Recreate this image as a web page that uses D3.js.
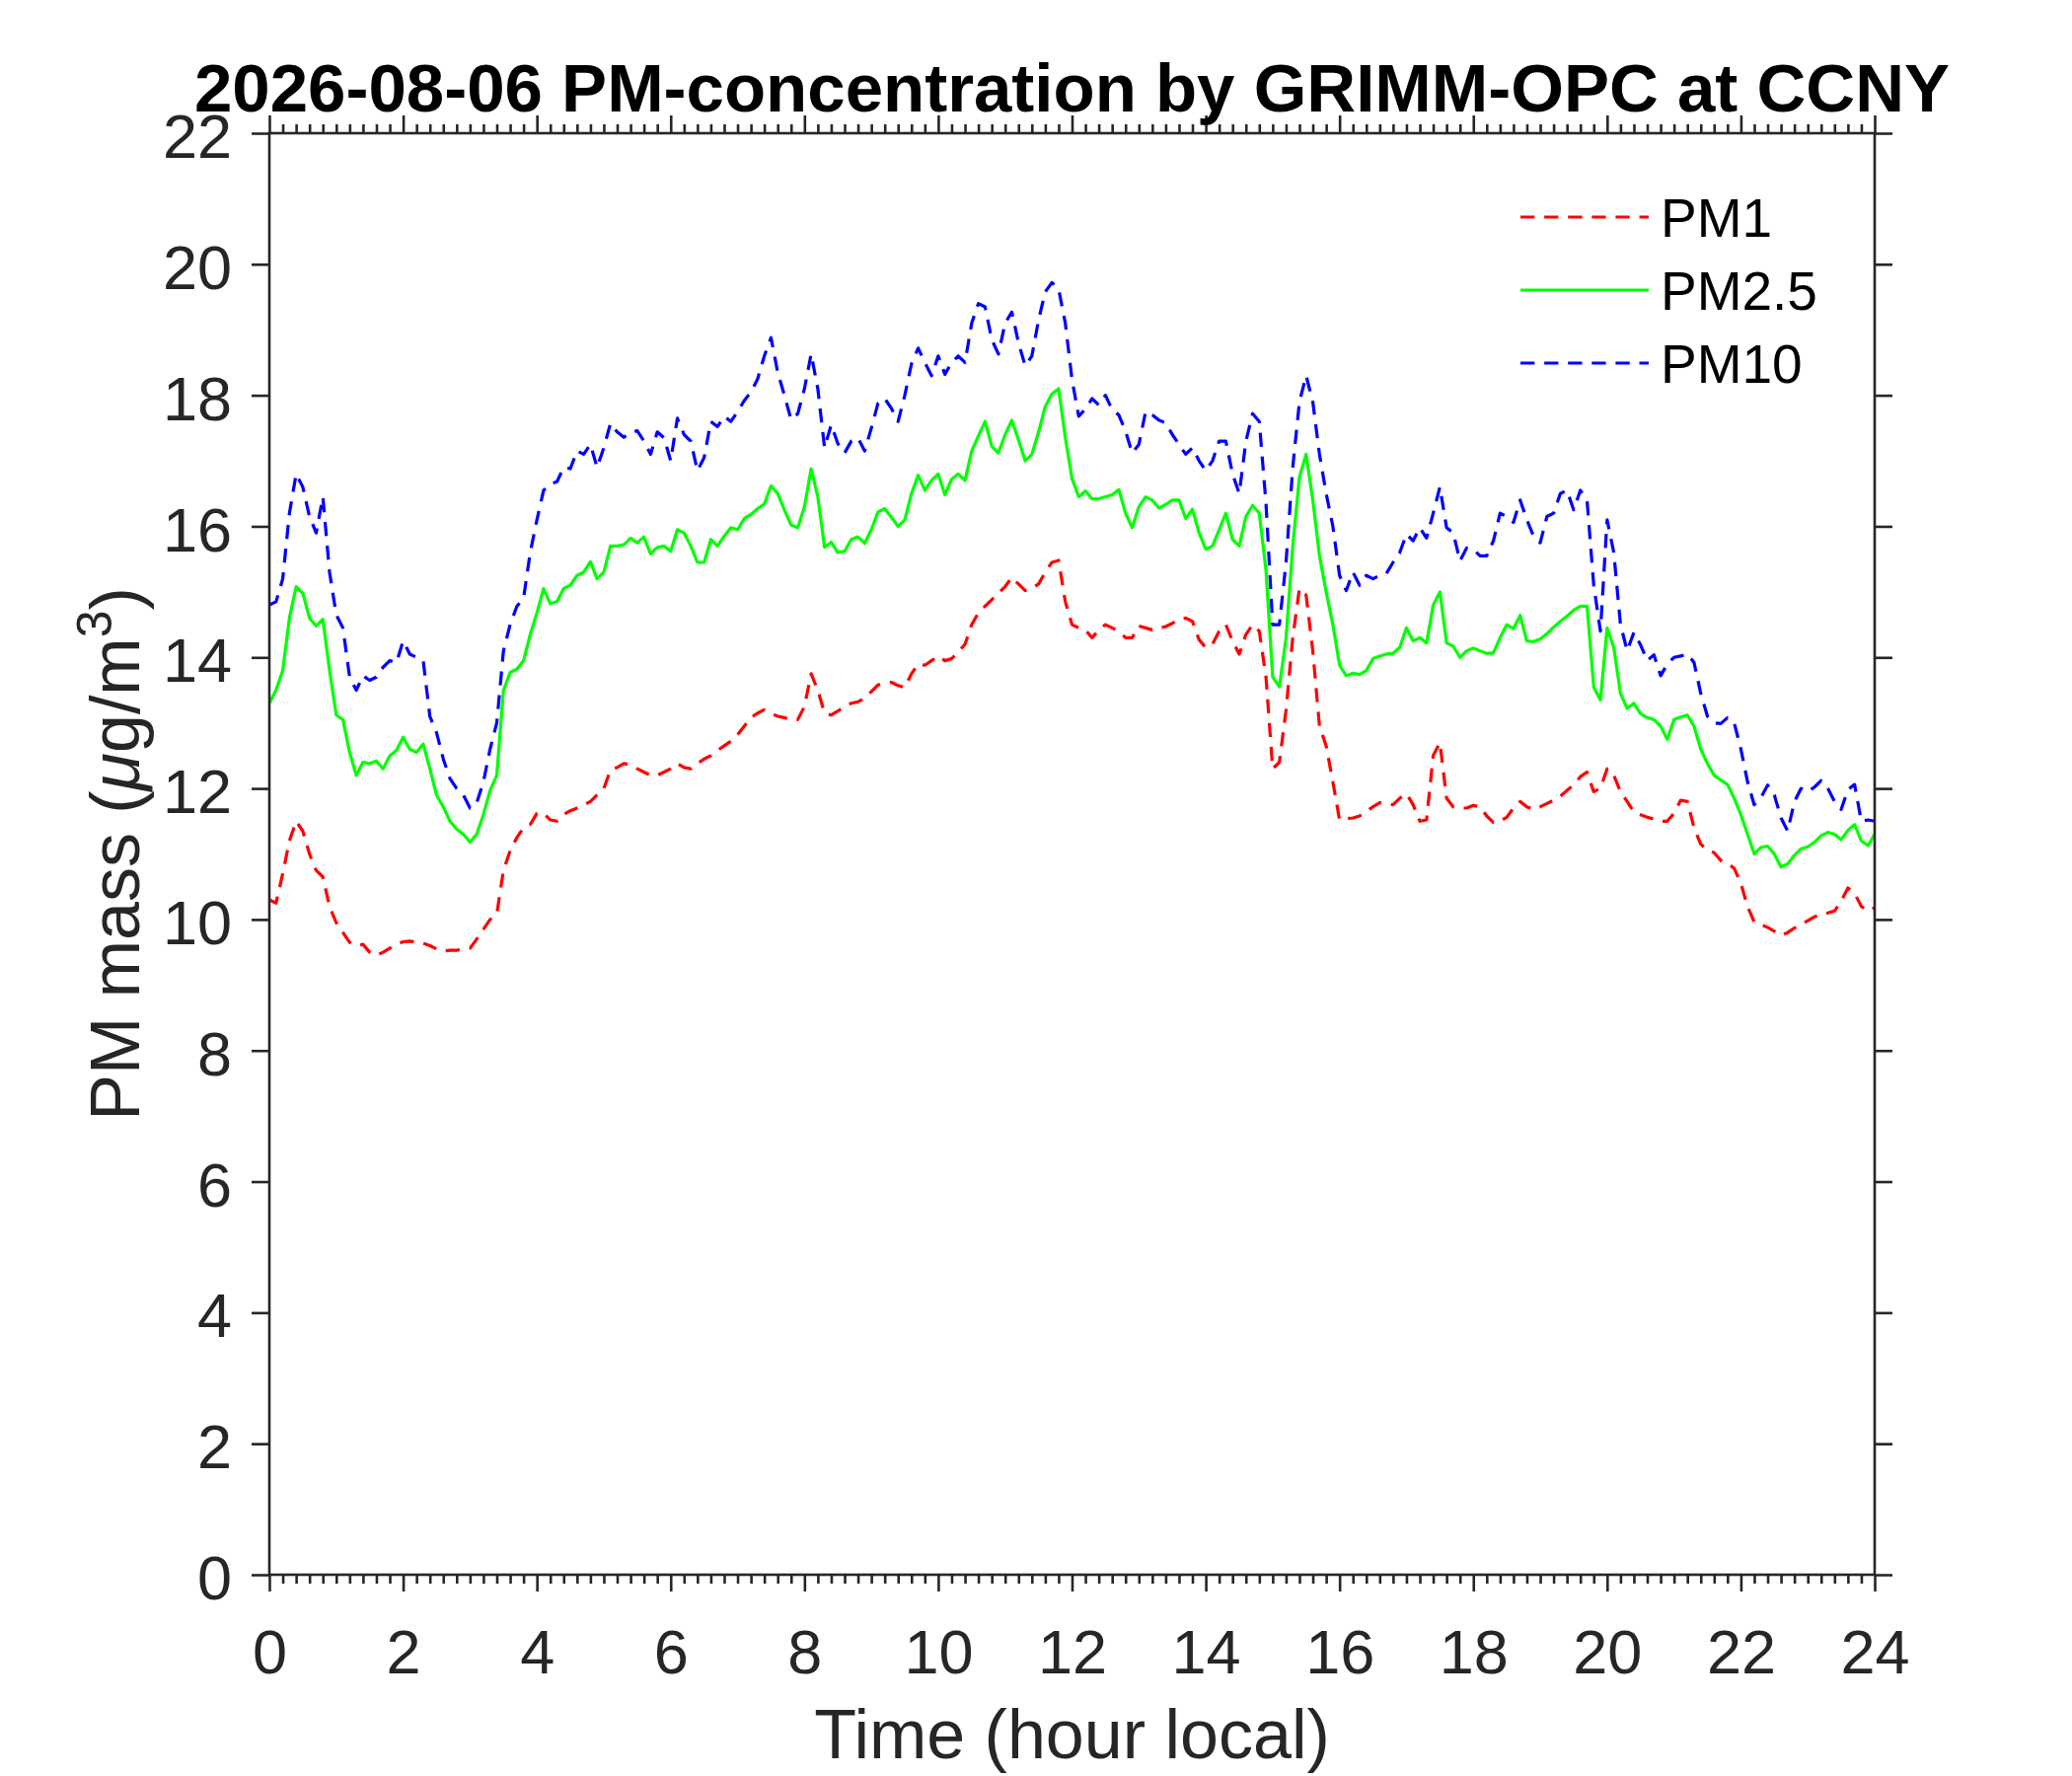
<!DOCTYPE html>
<html>
<head>
<meta charset="utf-8">
<script src="https://cdn.jsdelivr.net/npm/d3@7"></script>
<style>
  html, body { margin: 0; padding: 0; background: #fff; }
  svg { display: block; }
</style>
</head>
<body>
<svg id="chart" width="2100" height="1800"></svg>
<script>
// ---------------- DATA ----------------
const titleText = "2026-08-06 PM-concentration by GRIMM-OPC at CCNY";
const xLabelText = "Time (hour local)";
const seriesNames = ["PM1", "PM2.5", "PM10"];
const xTickLabels = [0, 2, 4, 6, 8, 10, 12, 14, 16, 18, 20, 22, 24];
const yTickLabels = [0, 2, 4, 6, 8, 10, 12, 14, 16, 18, 20, 22];
// sampling grid: every 0.1 hour from 0 to 24
const hours = d3.range(0, 241).map(i => i / 10);

const pm1 = [
10.3,10.25,10.7,11.2,11.5,11.35,11.0,10.75,10.65,10.2,
9.95,9.8,9.65,9.6,9.62,9.5,9.45,9.5,9.56,9.62,
9.66,9.67,9.65,9.64,9.6,9.55,9.52,9.53,9.53,9.55,
9.56,9.7,9.85,10.0,10.08,10.75,11.05,11.25,11.4,11.45,
11.62,11.62,11.52,11.5,11.6,11.66,11.7,11.75,11.8,11.9,
12.0,12.28,12.32,12.38,12.36,12.3,12.25,12.2,12.2,12.25,
12.3,12.38,12.32,12.3,12.38,12.45,12.5,12.58,12.65,12.72,
12.82,12.95,13.08,13.15,13.2,13.15,13.1,13.08,13.05,13.05,
13.25,13.75,13.5,13.15,13.12,13.18,13.25,13.3,13.32,13.38,
13.48,13.58,13.6,13.62,13.57,13.54,13.75,13.9,13.88,13.95,
14.02,13.95,13.98,14.08,14.2,14.5,14.68,14.78,14.88,14.98,
15.08,15.22,15.12,15.02,15.05,15.12,15.3,15.45,15.48,14.85,
14.5,14.45,14.42,14.3,14.42,14.5,14.45,14.4,14.3,14.3,
14.48,14.45,14.42,14.45,14.47,14.52,14.58,14.6,14.55,14.27,
14.15,14.2,14.4,14.5,14.25,14.05,14.35,14.5,14.4,13.7,
12.3,12.4,13.2,14.3,15.05,14.95,14.1,12.95,12.65,12.1,
11.52,11.54,11.55,11.58,11.65,11.72,11.78,11.78,11.75,11.85,
11.92,11.75,11.5,11.52,12.5,12.7,11.85,11.72,11.7,11.7,
11.74,11.72,11.58,11.48,11.5,11.56,11.7,11.8,11.72,11.68,
11.72,11.77,11.82,11.88,11.97,12.05,12.18,12.25,11.95,12.0,
12.3,12.2,11.95,11.8,11.64,11.6,11.56,11.53,11.5,11.5,
11.62,11.82,11.8,11.4,11.15,11.06,11.02,10.9,10.86,10.78,
10.55,10.2,9.96,9.92,9.88,9.82,9.76,9.8,9.87,9.93,
9.98,10.04,10.08,10.1,10.13,10.28,10.48,10.4,10.2,10.13,
10.18
];

const pm25 = [
13.3,13.5,13.8,14.6,15.08,14.98,14.6,14.48,14.58,13.8,
13.12,13.05,12.55,12.2,12.4,12.38,12.42,12.3,12.5,12.58,
12.78,12.6,12.55,12.68,12.3,11.9,11.72,11.5,11.38,11.3,
11.18,11.3,11.6,11.97,12.2,13.5,13.77,13.82,13.95,14.35,
14.68,15.05,14.82,14.85,15.05,15.1,15.25,15.3,15.46,15.2,
15.3,15.7,15.7,15.72,15.82,15.75,15.84,15.58,15.68,15.7,
15.62,15.95,15.9,15.7,15.45,15.45,15.8,15.7,15.85,15.98,
15.95,16.12,16.18,16.27,16.34,16.62,16.5,16.25,16.02,15.98,
16.3,16.88,16.45,15.68,15.76,15.6,15.62,15.8,15.84,15.74,
15.95,16.22,16.27,16.14,16.0,16.1,16.5,16.78,16.55,16.7,
16.8,16.48,16.72,16.8,16.7,17.15,17.38,17.6,17.22,17.12,
17.4,17.62,17.32,17.0,17.1,17.44,17.83,18.02,18.1,17.35,
16.73,16.45,16.54,16.42,16.42,16.45,16.48,16.56,16.2,15.98,
16.3,16.45,16.4,16.28,16.33,16.4,16.4,16.12,16.26,15.9,
15.65,15.7,15.95,16.2,15.8,15.7,16.15,16.32,16.2,15.33,
13.7,13.55,14.3,15.7,16.75,17.1,16.4,15.55,15.0,14.5,
13.88,13.72,13.76,13.74,13.8,13.98,14.02,14.05,14.06,14.15,
14.45,14.25,14.3,14.22,14.8,15.0,14.22,14.17,14.0,14.1,
14.14,14.1,14.06,14.07,14.3,14.5,14.44,14.64,14.25,14.24,
14.28,14.36,14.46,14.55,14.63,14.72,14.78,14.78,13.55,13.35,
14.45,14.15,13.45,13.22,13.3,13.14,13.08,13.05,12.95,12.75,
13.05,13.09,13.12,12.95,12.6,12.38,12.2,12.13,12.06,11.85,
11.6,11.3,11.0,11.1,11.12,11.0,10.8,10.85,10.98,11.08,
11.11,11.18,11.28,11.33,11.3,11.22,11.36,11.45,11.2,11.13,
11.3
];

const pm10 = [
14.8,14.85,15.2,16.2,16.8,16.6,16.15,15.9,16.45,15.3,
14.65,14.45,13.7,13.5,13.72,13.65,13.7,13.85,13.95,13.92,
14.25,14.05,14.0,13.95,13.1,12.85,12.45,12.15,12.0,11.9,
11.7,11.78,12.1,12.6,13.0,14.1,14.5,14.78,14.9,15.6,
16.1,16.55,16.65,16.68,16.9,16.88,17.15,17.1,17.25,16.9,
17.2,17.57,17.44,17.36,17.43,17.46,17.3,17.1,17.44,17.35,
17.0,17.65,17.4,17.3,16.85,17.05,17.6,17.52,17.68,17.6,
17.75,17.92,18.05,18.25,18.6,18.88,18.35,18.0,17.63,17.72,
18.1,18.63,18.1,17.2,17.55,17.26,17.12,17.3,17.35,17.15,
17.5,17.88,17.95,17.8,17.6,18.0,18.48,18.72,18.5,18.3,
18.6,18.32,18.5,18.6,18.5,19.1,19.4,19.35,18.85,18.63,
19.1,19.27,18.8,18.45,18.6,19.15,19.58,19.72,19.62,19.1,
18.24,17.68,17.79,17.95,17.85,18.0,17.78,17.7,17.45,17.12,
17.25,17.75,17.7,17.62,17.58,17.4,17.25,17.1,17.2,17.0,
16.85,17.0,17.3,17.3,16.8,16.5,17.3,17.72,17.6,16.35,
14.5,14.5,15.45,16.9,17.9,18.3,17.9,17.1,16.5,16.0,
15.25,15.02,15.3,15.1,15.25,15.2,15.25,15.28,15.45,15.6,
15.88,15.78,15.98,15.82,16.2,16.6,15.98,15.9,15.47,15.67,
15.65,15.55,15.55,15.78,16.2,16.15,16.06,16.4,16.1,15.85,
15.75,16.15,16.2,16.5,16.55,16.25,16.55,16.4,15.1,14.4,
16.1,15.6,14.5,14.1,14.38,14.19,13.95,14.04,13.72,13.9,
14.0,14.02,14.05,13.92,13.45,13.1,13.0,12.99,13.08,13.0,
12.6,12.1,11.75,11.86,12.05,11.9,11.55,11.35,11.8,12.0,
11.95,12.02,12.12,12.0,11.8,11.68,11.98,12.06,11.5,11.52,
11.5
];

const seriesValues = [pm1, pm25, pm10];
const seriesColors = ["#ff0000", "#00ff00", "#0000ff"];
const seriesDash = ["14.3,9.8", null, "14.3,9.8"];

// ---------------- LAYOUT ----------------
const W = 2100, H = 1800;
const plot = { left: 273, right: 1900, top: 135, bottom: 1596 };
const axisColor = "#262626";
const fontFamily = "'Liberation Sans', Arial, Helvetica, sans-serif";

const svg = d3.select("#chart");
svg.append("rect").attr("width", W).attr("height", H).attr("fill", "#fff");

const x = d3.scaleLinear().domain([0, 24]).range([plot.left, plot.right]);
const y = d3.scaleLinear().domain([0, 22]).range([plot.bottom, plot.top]);

svg.append("defs").append("clipPath").attr("id", "clip")
  .append("rect")
  .attr("x", plot.left).attr("y", plot.top)
  .attr("width", plot.right - plot.left).attr("height", plot.bottom - plot.top);

// ---------------- LINES ----------------
const lineGen = d3.line()
  .x((d, i) => x(hours[i]))
  .y(d => y(d));

const linesG = svg.append("g").attr("clip-path", "url(#clip)");
seriesValues.forEach((vals, k) => {
  const p = linesG.append("path")
    .datum(vals)
    .attr("d", lineGen)
    .attr("fill", "none")
    .attr("stroke", seriesColors[k])
    .attr("stroke-width", 3.2)
    .attr("stroke-linejoin", "round");
  if (seriesDash[k]) p.attr("stroke-dasharray", seriesDash[k]);
});

// ---------------- AXES ----------------
const minorX = d3.range(0, 121).map(i => i * 0.2).filter(v => Math.abs(v / 2 - Math.round(v / 2)) > 1e-6);

function styleAxis(g) {
  g.select(".domain").remove();
  g.selectAll("line").attr("stroke", axisColor).attr("stroke-width", 2.6);
  g.selectAll("text").attr("fill", axisColor).attr("font-family", fontFamily).attr("font-size", 63);
}

const gBottom = svg.append("g").attr("transform", `translate(0,${plot.bottom})`)
  .call(d3.axisBottom(x).tickValues(xTickLabels).tickSize(17).tickPadding(38).tickFormat(d3.format("d")));
styleAxis(gBottom);
const gBottomMinor = svg.append("g").attr("transform", `translate(0,${plot.bottom})`)
  .call(d3.axisBottom(x).tickValues(minorX).tickSize(9).tickFormat(""));
styleAxis(gBottomMinor);
const gTop = svg.append("g").attr("transform", `translate(0,${plot.top})`)
  .call(d3.axisTop(x).tickValues(xTickLabels).tickSize(18).tickFormat(""));
styleAxis(gTop);
const gTopMinor = svg.append("g").attr("transform", `translate(0,${plot.top})`)
  .call(d3.axisTop(x).tickValues(minorX).tickSize(9).tickFormat(""));
styleAxis(gTopMinor);
const gLeft = svg.append("g").attr("transform", `translate(${plot.left},0)`)
  .call(d3.axisLeft(y).tickValues(yTickLabels).tickSize(18).tickPadding(20).tickFormat(d3.format("d")));
styleAxis(gLeft);
gLeft.selectAll("text").attr("dy", "0.39em");
const gRight = svg.append("g").attr("transform", `translate(${plot.right},0)`)
  .call(d3.axisRight(y).tickValues(yTickLabels).tickSize(18).tickFormat(""));
styleAxis(gRight);

svg.append("rect")
  .attr("x", plot.left).attr("y", plot.top)
  .attr("width", plot.right - plot.left).attr("height", plot.bottom - plot.top)
  .attr("fill", "none").attr("stroke", axisColor).attr("stroke-width", 2.6);

// ---------------- TEXT ----------------
svg.append("text")
  .attr("x", (plot.left + plot.right) / 2).attr("y", 113)
  .attr("text-anchor", "middle")
  .attr("font-family", fontFamily).attr("font-weight", "bold").attr("font-size", 69)
  .attr("fill", "#000")
  .text(titleText);

svg.append("text")
  .attr("x", (plot.left + plot.right) / 2).attr("y", 1782)
  .attr("text-anchor", "middle")
  .attr("font-family", fontFamily).attr("font-size", 70)
  .attr("fill", axisColor)
  .text(xLabelText);

const yl = svg.append("text")
  .attr("transform", `translate(141,${(plot.top + plot.bottom) / 2}) rotate(-90)`)
  .attr("text-anchor", "middle")
  .attr("font-family", fontFamily).attr("font-size", 70)
  .attr("fill", axisColor);
yl.append("tspan").text("PM mass (");
yl.append("tspan").attr("font-style", "italic").text("\u03bc");
yl.append("tspan").text("g/m");
yl.append("tspan").attr("dy", -28).attr("font-size", 50).text("3");
yl.append("tspan").attr("dy", 28).text(")");

// ---------------- LEGEND ----------------
const legendRows = [220, 294, 368];
const legend = svg.append("g");
seriesNames.forEach((name, k) => {
  const l = legend.append("line")
    .attr("x1", 1541).attr("x2", 1671)
    .attr("y1", legendRows[k]).attr("y2", legendRows[k])
    .attr("stroke", seriesColors[k]).attr("stroke-width", 3.2);
  if (seriesDash[k]) l.attr("stroke-dasharray", seriesDash[k]);
  legend.append("text")
    .attr("x", 1683).attr("y", legendRows[k] + 20)
    .attr("font-family", fontFamily).attr("font-size", 55)
    .attr("fill", "#000")
    .text(name);
});
</script>
</body>
</html>
